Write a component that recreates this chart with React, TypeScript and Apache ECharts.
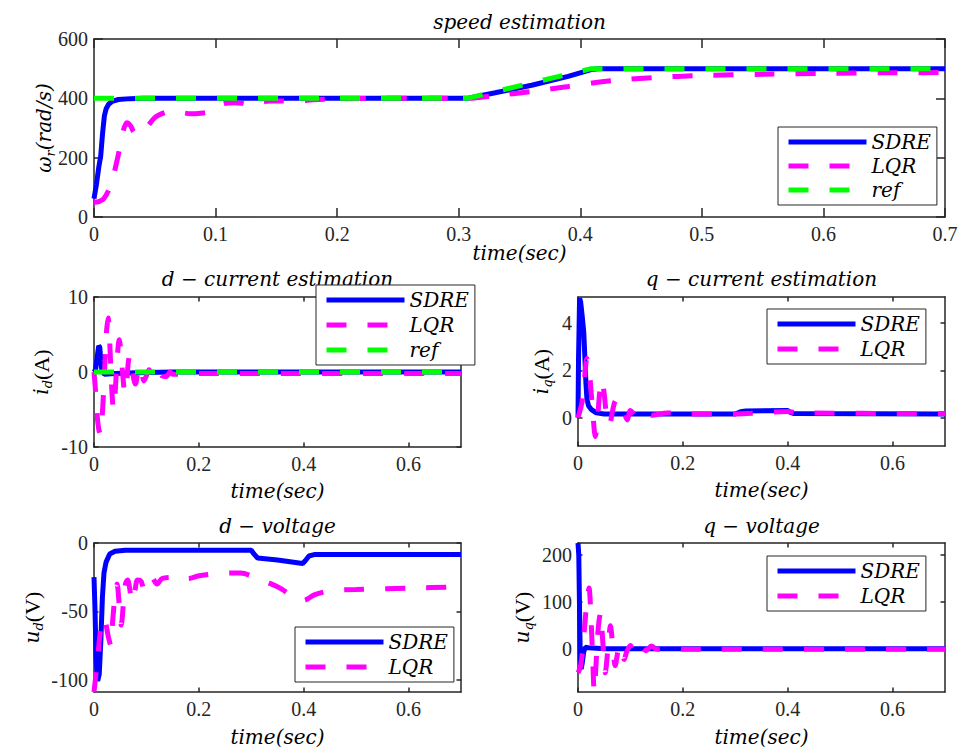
import React, { useEffect, useRef } from "react";
import * as echarts from "echarts";

// ---------- data (time in sec, value) ----------
const speedSDRE: [number, number][] = [
  [0, 62], [0.002, 110], [0.004, 170], [0.0055, 205], [0.007, 280], [0.0085, 340], [0.01, 365],
  [0.012, 380], [0.015, 390], [0.02, 396], [0.03, 399], [0.04, 400], [0.307, 400], [0.33, 419],
  [0.36, 444], [0.39, 474], [0.409, 497], [0.415, 500], [0.7, 500],
];
const speedLQR: [number, number][] = [
  [0, 50], [0.004, 52], [0.008, 62], [0.012, 90], [0.016, 140], [0.02, 210], [0.024, 290],
  [0.027, 318], [0.03, 308], [0.033, 285], [0.037, 278], [0.042, 295], [0.05, 335], [0.058, 352],
  [0.065, 358], [0.072, 352], [0.08, 348], [0.088, 350], [0.094, 353], [0.1, 368], [0.107, 382],
  [0.115, 385], [0.122, 383], [0.129, 376], [0.136, 386], [0.145, 391], [0.155, 391], [0.165, 389],
  [0.18, 395], [0.2, 398], [0.24, 400], [0.307, 400], [0.33, 409], [0.36, 423], [0.39, 440],
  [0.41, 452], [0.43, 461], [0.46, 470], [0.5, 477], [0.55, 481], [0.6, 484], [0.65, 486], [0.7, 487],
];
const speedRef: [number, number][] = [[0, 400], [0.307, 400], [0.409, 500], [0.7, 500]];

const idSDRE: [number, number][] = [
  [0, 0], [0.003, 0.3], [0.006, 2], [0.009, 3.5], [0.011, 3.3], [0.013, 1.5], [0.015, 0.2],
  [0.02, -0.3], [0.04, -0.2], [0.08, -0.1], [0.15, 0], [0.7, 0],
];
const idLQR: [number, number][] = [
  [0, 0], [0.003, -2.6], [0.006, -5.8], [0.009, -7.6], [0.012, -8.3], [0.015, -6.5], [0.018, -3],
  [0.021, 1.5], [0.024, 5.5], [0.027, 7.2], [0.03, 4], [0.033, -1], [0.036, -4.5], [0.038, -5],
  [0.041, -2], [0.044, 1.5], [0.048, 4.3], [0.051, 3], [0.055, -0.5], [0.059, -2.8], [0.062, -2],
  [0.065, 1], [0.068, 2.2], [0.072, 1], [0.076, -1], [0.079, -1.6], [0.083, -0.3], [0.087, 0.8],
  [0.091, 0], [0.095, -1.2], [0.1, -0.5], [0.105, 0.3], [0.11, -0.4], [0.115, -0.8], [0.12, -0.2],
  [0.125, 0.2], [0.13, -0.5], [0.138, -0.6], [0.145, 0], [0.15, -0.3], [0.2, -0.2], [0.7, -0.2],
];
const idRef: [number, number][] = [[0, 0], [0.7, 0]];

const iqSDRE: [number, number][] = [
  [0, 0], [0.001, 2.5], [0.003, 5.05], [0.005, 4.9], [0.008, 4.3], [0.011, 3.6], [0.013, 2.6],
  [0.015, 1.5], [0.017, 0.8], [0.02, 0.5], [0.025, 0.35], [0.035, 0.2], [0.05, 0.15], [0.3, 0.15],
  [0.31, 0.25], [0.32, 0.28], [0.4, 0.3], [0.405, 0.22], [0.412, 0.17], [0.7, 0.15],
];
const iqLQR: [number, number][] = [
  [0, 0], [0.008, 0.7], [0.013, 1.8], [0.017, 2.5], [0.021, 2.1], [0.025, 1.1], [0.029, 0],
  [0.033, -0.8], [0.037, -0.2], [0.041, 1.0], [0.046, 1.6], [0.05, 1.0], [0.055, 0], [0.06, -0.3],
  [0.066, 0.3], [0.071, 0.7], [0.078, 0.75], [0.083, 0.4], [0.088, 0.2], [0.094, -0.1], [0.1, 0.3],
  [0.11, 0.1], [0.12, 0.15], [0.13, 0.3], [0.14, 0.1], [0.17, 0.2], [0.2, 0.15], [0.3, 0.15],
  [0.33, 0.18], [0.4, 0.26], [0.42, 0.2], [0.7, 0.17],
];

const udSDRE: [number, number][] = [
  [0, -25], [0.002, -50], [0.004, -85], [0.007, -101], [0.01, -96], [0.013, -72], [0.016, -40],
  [0.019, -22], [0.023, -14], [0.03, -8], [0.04, -6], [0.06, -5.3], [0.3, -5.3], [0.305, -8],
  [0.312, -11], [0.35, -12.5], [0.398, -15], [0.403, -13], [0.41, -9.5], [0.42, -8.5], [0.7, -8.5],
];
const udLQR: [number, number][] = [
  [0, -109], [0.004, -95], [0.008, -80], [0.013, -62], [0.018, -55], [0.022, -58], [0.027, -68],
  [0.032, -75], [0.036, -55], [0.041, -35], [0.044, -30], [0.048, -45], [0.052, -60], [0.056, -45],
  [0.06, -30], [0.064, -27], [0.068, -33], [0.072, -43], [0.078, -35], [0.083, -27], [0.09, -28],
  [0.095, -34], [0.1, -30], [0.11, -25], [0.12, -30], [0.13, -26], [0.15, -25], [0.17, -24],
  [0.18, -26], [0.2, -24], [0.25, -22], [0.28, -22], [0.3, -24], [0.35, -32], [0.4, -42],
  [0.42, -38], [0.45, -35], [0.5, -34], [0.6, -33], [0.7, -32],
];

const uqSDRE: [number, number][] = [
  [0, 226], [0.0015, 200], [0.003, 80], [0.0045, -30], [0.006, -42], [0.008, -30], [0.011, -5],
  [0.014, 4], [0.02, 3], [0.05, 1], [0.7, 1],
];
const uqLQR: [number, number][] = [
  [0, -50], [0.004, -40], [0.008, -10], [0.012, 40], [0.016, 90], [0.021, 130], [0.025, 60],
  [0.028, -20], [0.031, -90], [0.035, -20], [0.039, 50], [0.043, 78], [0.047, 20], [0.052, -50],
  [0.057, 0], [0.062, 50], [0.066, 10], [0.071, -35], [0.076, -5], [0.08, 8], [0.084, -5],
  [0.088, -22], [0.093, -5], [0.1, 8], [0.105, -5], [0.11, -12], [0.12, 5], [0.13, -3], [0.14, 7],
  [0.15, 0], [0.18, 3], [0.2, 0], [0.7, 0],
];

const xTicksTop = [0, 0.1, 0.2, 0.3, 0.4, 0.5, 0.6, 0.7];
const xTicksSmall = [0, 0.2, 0.4, 0.6];
const yRanges: [number, number][] = [[0, 600], [-10, 10], [-1.2, 5.1], [-109, 0], [-91, 226]];
const yTicks = [[0, 200, 400, 600], [-10, 0, 10], [0, 2, 4], [-100, -50, 0], [0, 100, 200]];
const titles = [
  "speed estimation",
  "d − current estimation",
  "q − current estimation",
  "d − voltage",
  "q − voltage",
];

// ---------- layout ----------
const GRIDS = [
  { left: 94, top: 39, width: 851, height: 178 },
  { left: 94, top: 297, width: 367, height: 150 },
  { left: 578, top: 297, width: 367, height: 149 },
  { left: 94, top: 543, width: 367, height: 149 },
  { left: 578, top: 543, width: 367, height: 149 },
];
const TITLE_TOP = [12, 269, 269, 516, 516];
const XNAME_GAP = [26, 34, 34, 35, 35];
const YNAME_GAP = [37, 40, 24, 49, 43];
const YNAMES = [
  "{m|ω}{s|r}{m|(rad/s)}",
  "{m|i}{s|d}{n|(A)}",
  "{m|i}{s|q}{n|(A)}",
  "{m|u}{s|d}{n|(V)}",
  "{m|u}{s|q}{n|(V)}",
];
const LEGENDS = [
  { left: 778, top: 127, names: ["SDRE", "LQR", "ref"], gap: 4 },
  { left: 316, top: 285, names: ["SDRE", "LQR", "ref"], gap: 5 },
  { left: 767, top: 309, names: ["SDRE", "LQR"], gap: 5 },
  { left: 295, top: 627, names: ["SDRE", "LQR"], gap: 5 },
  { left: 767, top: 556, names: ["SDRE", "LQR"], gap: 5 },
];

const SERIF = "Liberation Serif";
const MATH = "DejaVu Serif";
const AX = "#262626";
const BLUE = "#0000ff";
const MAGENTA = "#ff00ff";
const GREEN = "#00ff00";
const DASH = [20, 21];

const mathStyle = (size: number, color = "#000") => ({
  fontFamily: MATH, fontStyle: "italic", fontWeight: "normal", fontSize: size, lineHeight: size, color,
});

export default function App() {
  const ref = useRef<HTMLDivElement>(null);
  useEffect(() => {
    if (!ref.current) return;
    const chart = echarts.init(ref.current, undefined, { renderer: "svg" });

    const xAxis: any[] = [];
    const yAxis: any[] = [];
    GRIDS.forEach((_, i) => {
      const ticks = i === 0 ? xTicksTop : xTicksSmall;
      const tl = i === 0 ? 9 : 4.5;
      const line = { show: true, onZero: false, lineStyle: { color: AX, width: 1.5 } };
      const tickStyle = { color: AX, width: 1.5 };
      const labelStyle = { fontFamily: SERIF, fontStyle: "normal", fontWeight: "normal", fontSize: 20, color: AX };
      xAxis.push({
        type: "value", gridIndex: i, min: 0, max: 0.7, position: "bottom",
        axisLine: line,
        axisTick: { show: true, inside: true, length: tl, customValues: ticks, lineStyle: tickStyle },
        axisLabel: { show: true, customValues: ticks, margin: 7, hideOverlap: false, ...labelStyle },
        splitLine: { show: false },
        name: "time(sec)", nameLocation: "middle", nameGap: XNAME_GAP[i], nameMoveOverlap: false,
        nameTextStyle: mathStyle(20),
      });
      xAxis.push({
        type: "value", gridIndex: i, min: 0, max: 0.7, position: "top",
        axisLine: line,
        axisTick: { show: true, inside: true, length: tl, customValues: ticks, lineStyle: tickStyle },
        axisLabel: { show: false },
        splitLine: { show: false },
      });
      const [ymin, ymax] = yRanges[i];
      yAxis.push({
        type: "value", gridIndex: i, min: ymin, max: ymax, position: "left",
        axisLine: line,
        axisTick: { show: true, inside: true, length: tl, customValues: yTicks[i], lineStyle: tickStyle },
        axisLabel: { show: true, customValues: yTicks[i], margin: 6, hideOverlap: false, ...labelStyle },
        splitLine: { show: false },
        name: YNAMES[i], nameLocation: "middle", nameRotate: 90, nameGap: YNAME_GAP[i],
        nameMoveOverlap: false,
        nameTextStyle: {
          rich: {
            m: { ...mathStyle(20), lineHeight: 26 },
            n: { fontFamily: SERIF, fontSize: 22, lineHeight: 26, color: "#000" },
            s: { ...mathStyle(13), lineHeight: 14, verticalAlign: "bottom" },
          },
        },
      });
      yAxis.push({
        type: "value", gridIndex: i, min: ymin, max: ymax, position: "right",
        axisLine: line,
        axisTick: { show: true, inside: true, length: tl, customValues: yTicks[i], lineStyle: tickStyle },
        axisLabel: { show: false },
        splitLine: { show: false },
      });
    });

    const mk = (name: string, data: [number, number][], gi: number, color: string, dashed: boolean) => ({
      name, type: "line", data, xAxisIndex: gi * 2, yAxisIndex: gi * 2,
      symbol: "none", showSymbol: false, smooth: dashed && name === "LQR" ? 0.3 : false,
      lineStyle: { color, width: 5, type: dashed ? DASH : "solid", cap: "butt" },
      itemStyle: { color }, z: 2,
    });

    const series = [
      mk("SDRE", speedSDRE, 0, BLUE, false),
      mk("LQR", speedLQR, 0, MAGENTA, true),
      mk("ref", speedRef, 0, GREEN, true),
      mk("SDRE", idSDRE, 1, BLUE, false),
      mk("LQR", idLQR, 1, MAGENTA, true),
      mk("ref", idRef, 1, GREEN, true),
      mk("SDRE", iqSDRE, 2, BLUE, false),
      mk("LQR", iqLQR, 2, MAGENTA, true),
      mk("SDRE", udSDRE, 3, BLUE, false),
      mk("LQR", udLQR, 3, MAGENTA, true),
      mk("SDRE", uqSDRE, 4, BLUE, false),
      mk("LQR", uqLQR, 4, MAGENTA, true),
    ];

    const title = titles.map((t, i) => ({
      text: t,
      left: GRIDS[i].left + GRIDS[i].width / 2,
      top: TITLE_TOP[i],
      textAlign: "center",
      padding: 0,
      textStyle: mathStyle(20),
    }));

    const legend = LEGENDS.map((l) => ({
      orient: "vertical", left: l.left, top: l.top, data: l.names,
      itemWidth: 78, itemHeight: 14, itemGap: l.gap,
      padding: [5, 6, 5, 8],
      backgroundColor: "#ffffff", borderColor: AX, borderWidth: 1, borderRadius: 0,
      selectedMode: false, z: 10,
      itemStyle: { opacity: 0, borderWidth: 0 },
      lineStyle: { width: 5, type: "inherit", color: "inherit" },
      textStyle: mathStyle(20),
    }));

    chart.setOption({
      animation: false,
      backgroundColor: "#ffffff",
      textStyle: { fontFamily: SERIF, fontSize: 20 },
      grid: GRIDS.map((g) => ({ ...g, containLabel: false })),
      title, legend, xAxis, yAxis, series,
    });
    return () => chart.dispose();
  }, []);
  return (
    <div
      ref={ref}
      style={{ position: "absolute", left: 0, top: 0, width: 961, height: 751, background: "#fff" }}
    />
  );
}
